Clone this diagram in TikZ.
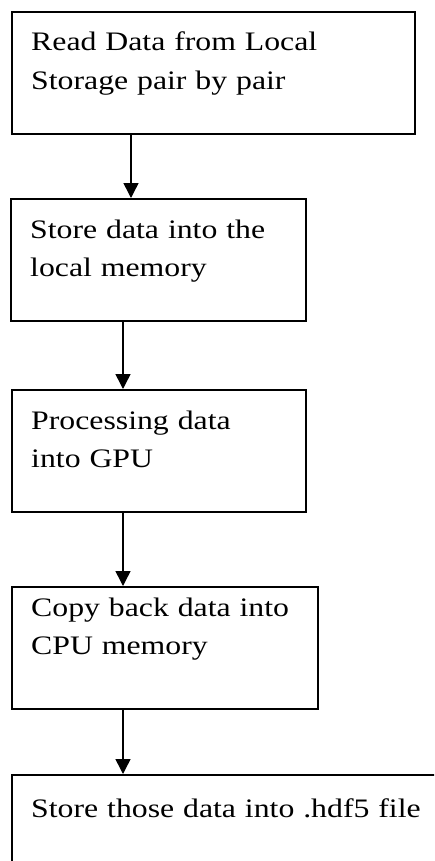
\documentclass[tikz,border=0pt]{standalone}
\usepackage{fontspec}
\setmainfont{Liberation Serif}[FakeStretch=1.19]
\usetikzlibrary{arrows.meta}
\begin{document}
\begin{tikzpicture}[x=1pt,y=-1pt,
  stepbox/.style={draw=black, line width=1.6pt, rectangle, inner sep=0pt, anchor=north west},
  steptext/.style={anchor=base west, inner sep=0pt, text width=400pt, align=left,
     font=\fontsize{26.7}{38.5}\selectfont},
  flow/.style={line width=1.5pt, -{Triangle[length=15pt,width=15pt]}}]
\clip (0,0) rectangle (434,861);
\fill[white] (0,0) rectangle (434,861);
\node[stepbox, minimum width=403pt, minimum height=122pt] (b1) at (11,11) {};
\node[stepbox, minimum width=295pt, minimum height=122pt] (b2) at (10,198) {};
\node[stepbox, minimum width=294pt, minimum height=122pt] (b3) at (11,389) {};
\node[stepbox, minimum width=306pt, minimum height=122pt] (b4) at (11,586) {};
\node[stepbox, minimum width=460pt, minimum height=122pt] (b5) at (11,774) {};
\node[steptext] (t1) at (31,51) {Read Data from Local\\Storage pair by pair};
\node[steptext] (t2) at (30,238) {Store data into the\\local memory};
\node[steptext] (t3) at (31,429) {Processing data\\into GPU};
\node[steptext] (t4) at (31,616) {Copy back data into\\CPU memory};
\node[steptext] (t5) at (31,817) {Store those data into .hdf5 file};
\draw[flow] ([xshift=120pt]b1.south west) -- ([xshift=121pt]b2.north west);
\draw[flow] ([xshift=113pt]b2.south west) -- ([xshift=112pt]b3.north west);
\draw[flow] ([xshift=112pt]b3.south west) -- ([xshift=112pt]b4.north west);
\draw[flow] ([xshift=112pt]b4.south west) -- ([xshift=112pt]b5.north west);
\end{tikzpicture}
\end{document}
